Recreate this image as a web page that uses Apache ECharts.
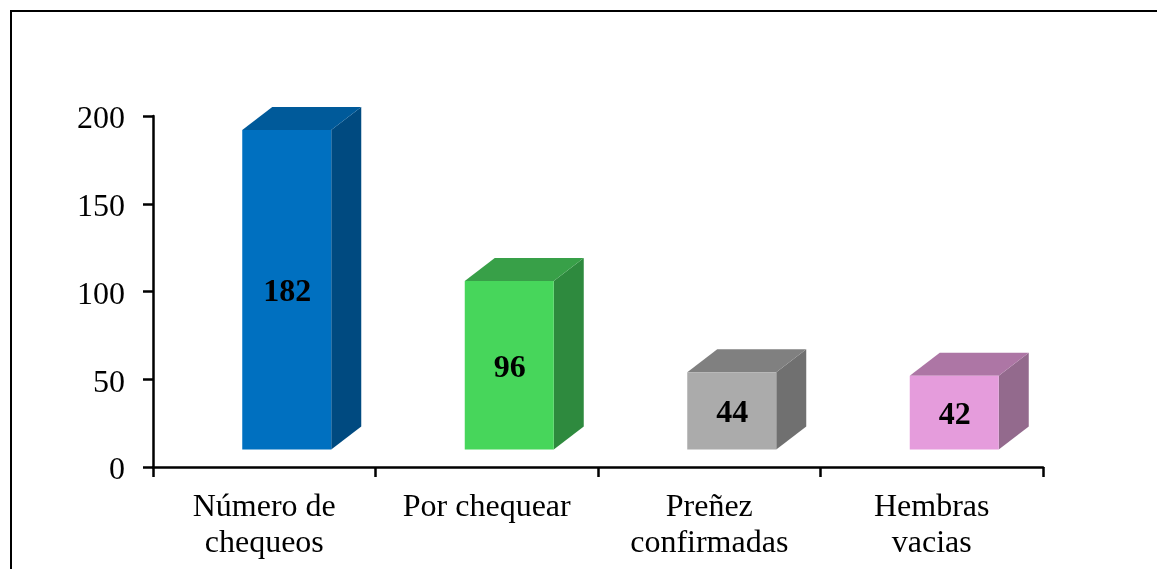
<!DOCTYPE html>
<html>
<head>
<meta charset="utf-8">
<style>
html, body { margin: 0; padding: 0; background: #fff; }
#chart { width: 1157px; height: 569px; }
</style>
<script src="https://cdn.jsdelivr.net/npm/echarts@6/dist/echarts.min.js"></script>
</head>
<body>
<div id="chart"></div>
<script>
const categories = ['Número de\nchequeos', 'Por chequear', 'Preñez\nconfirmadas', 'Hembras\nvacias'];
const values = [182, 96, 44, 42];

// Face colours for each bar
const frontColors = ['#0070C0', '#47D65B', '#ABABAB', '#E59CDC'];
const topColors = ['#005A9A', '#38A048', '#808080', '#AD76A5'];
const sideColors = ['#004A80', '#2E8A3E', '#707070', '#936A8D'];

const FONT = '"Liberation Serif", "Times New Roman", serif';
const BAR_RATIO = 0.4;       // front face width as a share of the category band
const FLOOR_LIFT = 17.5;     // front face sits above the axis line
const SHIFT_X = 22.5;        // front face is shifted right of the band centre
const DEPTH_X = 30;
const DEPTH_Y = 23;

function renderBox(params, api) {
  const i = api.value(0);
  const v = api.value(1);
  const top = api.coord([i, v]);
  const base = api.coord([i, 0]);
  const w = api.size([1, 0])[0] * BAR_RATIO;
  const x0 = top[0] + SHIFT_X - w / 2;
  const x1 = x0 + w;
  const y0 = top[1] - FLOOR_LIFT;
  const y1 = base[1] - FLOOR_LIFT;
  const face = (pts, fill) => ({ type: 'polygon', shape: { points: pts }, style: { fill: fill } });
  return {
    type: 'group',
    children: [
      face([[x1, y0], [x1 + DEPTH_X, y0 - DEPTH_Y], [x1 + DEPTH_X, y1 - DEPTH_Y], [x1, y1]], sideColors[i]),
      face([[x0, y0], [x0 + DEPTH_X, y0 - DEPTH_Y], [x1 + DEPTH_X, y0 - DEPTH_Y], [x1, y0]], topColors[i]),
      { type: 'rect', shape: { x: x0, y: y0, width: w, height: y1 - y0 }, style: { fill: frontColors[i] } },
      {
        type: 'text',
        style: {
          x: (x0 + x1) / 2 + 0.5,
          y: (y0 + y1) / 2 + 3,
          text: String(v),
          align: 'center',
          verticalAlign: 'middle',
          fill: '#000',
          font: 'bold 32px ' + FONT
        }
      }
    ]
  };
}

const chart = echarts.init(document.getElementById('chart'), null, { renderer: 'canvas' });
chart.setOption({
  animation: false,
  backgroundColor: '#fff',
  grid: { left: 153, right: 114, top: 116, bottom: 102, containLabel: false },
  xAxis: {
    type: 'category',
    data: categories,
    boundaryGap: true,
    axisLine: { lineStyle: { color: '#000', width: 2.5 } },
    axisTick: { show: true, alignWithLabel: false, length: 10, lineStyle: { color: '#000', width: 2.5 } },
    axisLabel: { color: '#000', fontFamily: FONT, fontSize: 32, lineHeight: 36, margin: 23, interval: 0 }
  },
  yAxis: {
    type: 'value',
    min: 0,
    max: 200,
    interval: 50,
    splitLine: { show: false },
    axisLine: { show: true, lineStyle: { color: '#000', width: 2.5 } },
    axisTick: { show: true, length: 10, lineStyle: { color: '#000', width: 2.5 } },
    // Top-anchored with a short line box, which drops the digits just below each tick
    axisLabel: { color: '#000', fontFamily: FONT, fontSize: 32, margin: 28, verticalAlign: 'top', lineHeight: 8 }
  },
  series: [{
    type: 'custom',
    renderItem: renderBox,
    clip: false,
    encode: { x: 0, y: 1 },
    data: values.map((v, i) => [i, v])
  }],
  // Outer frame: only the left and top edges fall inside the page
  graphic: [{
    type: 'polyline',
    silent: true,
    shape: { points: [[11, 569], [11, 11], [1157, 11]] },
    style: { stroke: '#000', lineWidth: 2, fill: null }
  }]
});
</script>
</body>
</html>
